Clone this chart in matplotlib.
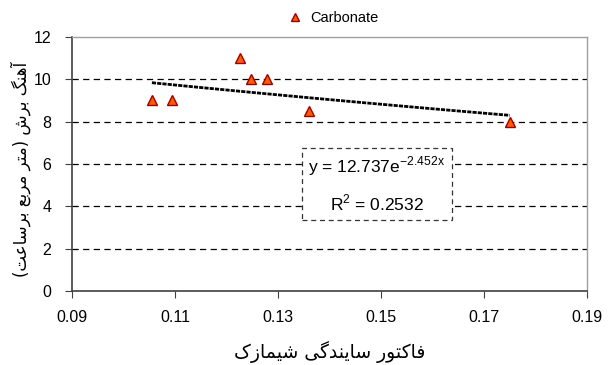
import numpy as np
import matplotlib
matplotlib.use('Agg')
import matplotlib.pyplot as plt
from matplotlib.patches import Rectangle

plt.rcParams['font.family'] = ['Liberation Sans', 'DejaVu Sans']

# data
abrasion = [0.1055, 0.1094, 0.1227, 0.1248, 0.1279, 0.1360, 0.1750]
cut_rate = [9.0, 9.0, 11.0, 10.0, 10.0, 8.5, 8.0]
FIT_A = 12.737
FIT_B = -2.452
R2 = 0.2532

x_ticks = [0.09, 0.11, 0.13, 0.15, 0.17, 0.19]
y_ticks = [0, 2, 4, 6, 8, 10, 12]

x_label = 'فاکتور سایندگی شیمازک'
y_label = 'آهنگ برش (متر مربع برساعت)'

# minimal persian shaping: (isolated, final, initial, medial)
FORMS = {
    'ا': (0xFE8D, 0xFE8E), 'آ': (0xFE81, 0xFE82),
    'ب': (0xFE8F, 0xFE90, 0xFE91, 0xFE92), 'ت': (0xFE95, 0xFE96, 0xFE97, 0xFE98),
    'د': (0xFEA9, 0xFEAA), 'ر': (0xFEAD, 0xFEAE), 'ز': (0xFEAF, 0xFEB0),
    'س': (0xFEB1, 0xFEB2, 0xFEB3, 0xFEB4), 'ش': (0xFEB5, 0xFEB6, 0xFEB7, 0xFEB8),
    'ع': (0xFEC9, 0xFECA, 0xFECB, 0xFECC), 'ف': (0xFED1, 0xFED2, 0xFED3, 0xFED4),
    'م': (0xFEE1, 0xFEE2, 0xFEE3, 0xFEE4), 'ن': (0xFEE5, 0xFEE6, 0xFEE7, 0xFEE8),
    'ه': (0xFEE9, 0xFEEA, 0xFEEB, 0xFEEC), 'و': (0xFEED, 0xFEEE),
    'ک': (0xFB8E, 0xFB8F, 0xFB90, 0xFB91), 'گ': (0xFB92, 0xFB93, 0xFB94, 0xFB95),
    'ی': (0xFBFC, 0xFBFD, 0xFBFE, 0xFBFF),
}


def shape(text):
    out = []
    for i, ch in enumerate(text):
        if ch not in FORMS:
            out.append(ch)
            continue
        prev = text[i - 1] if i > 0 else ''
        nxt = text[i + 1] if i + 1 < len(text) else ''
        join_prev = prev in FORMS and len(FORMS[prev]) == 4
        join_next = len(FORMS[ch]) == 4 and nxt in FORMS
        f = FORMS[ch]
        if join_prev and join_next:
            out.append(chr(f[3]))
        elif join_prev:
            out.append(chr(f[1]))
        elif join_next:
            out.append(chr(f[2]))
        else:
            out.append(chr(f[0]))
    vis = ''.join(reversed(out))
    return vis.translate(str.maketrans('()', ')('))


fig = plt.figure(figsize=(6.16, 3.65), dpi=100)
ax = fig.add_axes([0.117, 0.203, 0.836, 0.696])

for y in y_ticks[1:-1]:
    ax.axhline(y, color='black', lw=0.9, linestyle=(0, (5, 3.5)), zorder=1)

xs = np.linspace(min(abrasion), max(abrasion), 60)
ax.plot(xs, FIT_A * np.exp(FIT_B * xs), color='black', lw=2.0,
        linestyle=(0, (1.5, 0.4)), zorder=2)

ax.plot(abrasion, cut_rate, linestyle='none', marker='^', markersize=7,
        markerfacecolor='#FF5A00', markeredgecolor='#990000', markeredgewidth=1,
        label='Carbonate', zorder=3)

ax.set_xlim(0.09, 0.19)
ax.set_ylim(0, 12)
ax.set_xticks(x_ticks)
ax.set_xticklabels([f'{t:.2f}' for t in x_ticks])
ax.set_yticks(y_ticks)
ax.tick_params(direction='out', length=5, labelsize=11.5, color='#404040')
ax.tick_params(axis='x', pad=9)
ax.tick_params(axis='y', pad=10)

for side in ['left', 'bottom']:
    ax.spines[side].set_color('#404040')
    ax.spines[side].set_linewidth(1.2)
for side in ['top', 'right']:
    ax.spines[side].set_color('#a0a0a0')
    ax.spines[side].set_linewidth(1.0)

ax.add_patch(Rectangle((0.4466, 0.2795), 0.2914, 0.2835, transform=ax.transAxes,
                       facecolor='white', edgecolor='#333333', lw=0.9,
                       linestyle=(0, (4, 3)), zorder=4))
ax.text(0.592, 0.49, r'y = 12.737e$^{\mathregular{-2.452x}}$', transform=ax.transAxes,
        ha='center', va='center', fontsize=12.5, zorder=5)
ax.text(0.592, 0.345, r'R$^{\mathregular{2}}$ = ' + f'{R2}', transform=ax.transAxes,
        ha='center', va='center', fontsize=12.5, zorder=5)

ax.legend(loc='center', bbox_to_anchor=(0.5, 1.075), frameon=False, fontsize=10.5,
          handletextpad=0.1, markerscale=0.75)

fig.text(0.535, 0.035, shape(x_label), ha='center', va='center', fontsize=13.5,
         family='DejaVu Sans')
fig.text(0.033, 0.535, shape(y_label), ha='center', va='center', fontsize=12,
         rotation=90, family='DejaVu Sans')

fig.savefig('out.png', dpi=100)
